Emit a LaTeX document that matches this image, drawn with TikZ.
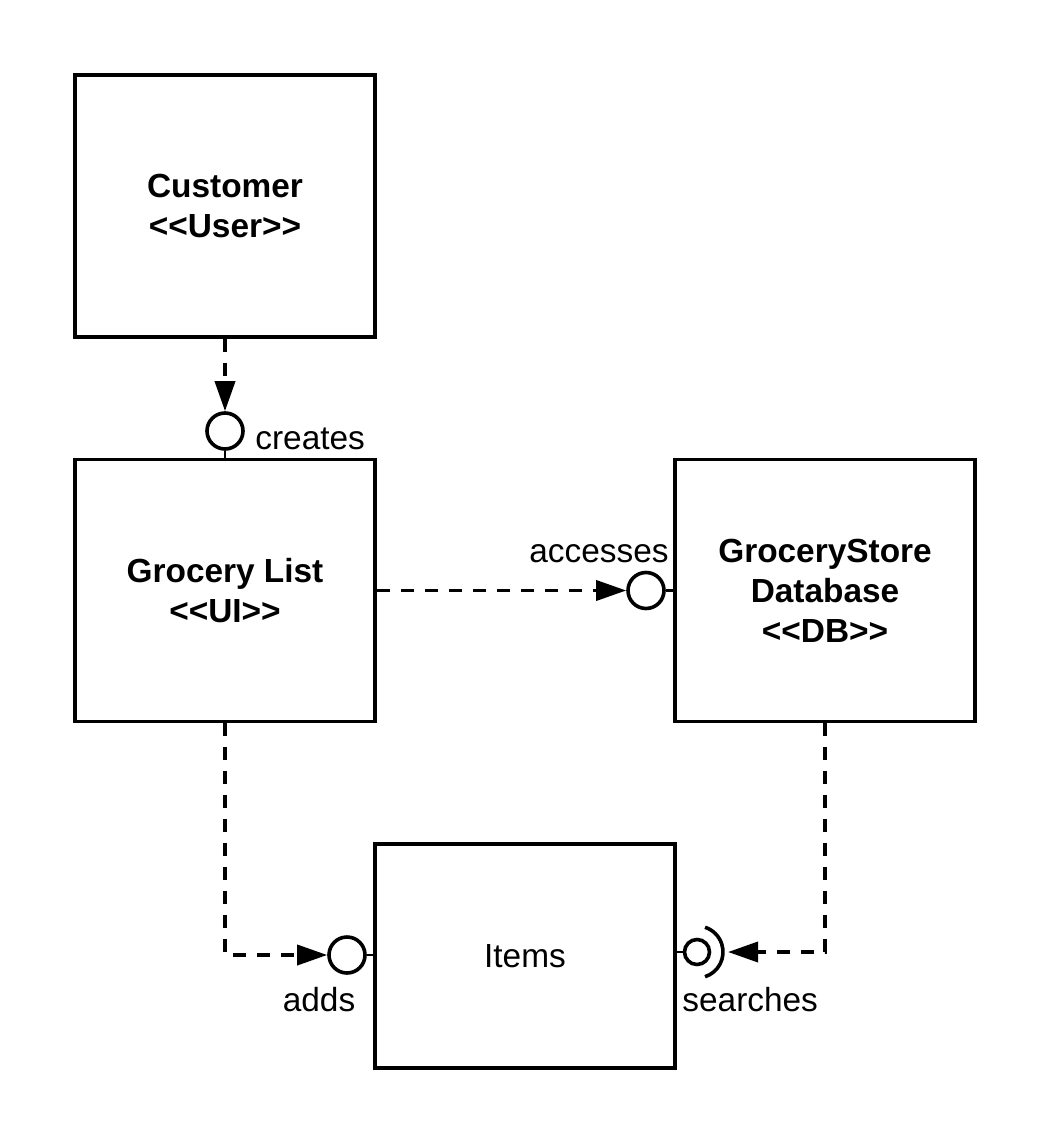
\documentclass[tikz,border=0pt]{standalone}
\usepackage{fontspec}
\setmainfont{Liberation Sans}
\usetikzlibrary{arrows.meta}
\tikzset{
	comp/.style={draw, line width=1.8pt, minimum width=150pt, minimum height=131pt, inner sep=0pt, align=center, font=\bfseries\fontsize{16.7}{20}\selectfont},
	ball/.style={draw, circle, line width=1.8pt, minimum size=18pt, inner sep=0pt},
	dep/.style={line width=1.8pt, dash pattern=on 6.5pt off 5.5pt, -{Triangle[length=15pt,width=10pt]}},
	stub/.style={line width=1.2pt},
	lbl/.style={font=\fontsize{16.7}{20}\selectfont, inner sep=0pt}
}
\begin{document}
\begin{tikzpicture}[x=0.5pt,y=-0.5pt]
				\useasboundingbox (0,0) rectangle (1050,1144);
				% components
				\node[comp] (cust) at (225,206) {Customer\\{<}{<}User{>}{>}};
				\node[comp] (glist) at (225,590.5) {Grocery List\\{<}{<}UI{>}{>}};
				\node[comp] (gsdb) at (825,590.5) {GroceryStore\\Database\\{<}{<}DB{>}{>}};
				\node[comp, minimum height=112pt, font=\fontsize{16.7}{20}\selectfont] (items) at (525,956) {Items};
				% interfaces
				\node[ball] (creates) at (225,431) {};
				\node[ball] (access) at (646,590.5) {};
				\node[ball] (add) at (347,955) {};
				\node[ball, minimum size=12.5pt] (search) at (697,952) {};
				\draw[line width=1.8pt] (search.center) ++(-72:13pt) arc[start angle=-72, end angle=72, radius=13pt];
				\coordinate (sockend) at (728,952);
				% stubs
				\draw[stub] (creates.south) -- (creates.south |- glist.north);
				\draw[stub] (access.east) -- (access.east -| gsdb.west);
				\draw[stub] (add.east) -- (add.east -| items.west);
				\draw[stub] (search.west) -- (search.west -| items.east);
				% dependencies
				\draw[dep] (cust.south) -- (creates.north);
				\draw[dep] (glist.east) -- (access.west);
				\draw[dep] (glist.south) |- (add.west);
				\draw[dep] (gsdb.south) |- (sockend);
				% labels
				\node[lbl, anchor=base west] (creates lbl) at (255,449) {creates};
				\node[lbl, anchor=base east] (access lbl) at (669,562) {accesses};
				\node[lbl, anchor=base] (add lbl) at (319,1011) {adds};
				\node[lbl, anchor=base west] (search lbl) at (682,1011) {searches};
			\end{tikzpicture}
\end{document}
